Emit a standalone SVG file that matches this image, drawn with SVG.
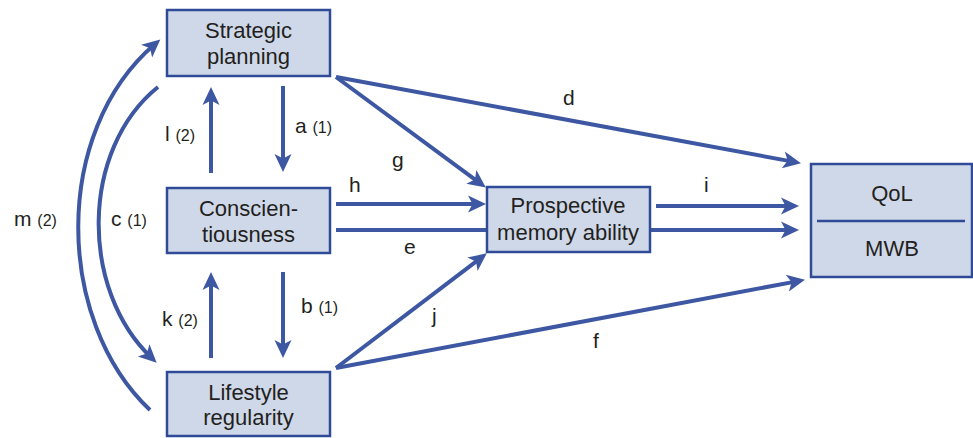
<svg xmlns="http://www.w3.org/2000/svg" width="973" height="438" viewBox="0 0 973 438">
<style>
.box{fill:#cfd8e8;stroke:#2f4b98;stroke-width:2.5}
.t{font-family:"Liberation Sans",Arial,sans-serif;font-size:22px;fill:#231f20;text-anchor:middle}
.lb{font-family:"Liberation Sans",Arial,sans-serif;font-size:21px;fill:#231f20}
.sm{font-size:16px}
.c{fill:none;stroke:#3d57a2;stroke-width:4}
</style>
<defs>
<marker id="ah" markerUnits="userSpaceOnUse" markerWidth="22" markerHeight="20" refX="11" refY="8.5" orient="auto" viewBox="0 0 22 17">
<path d="M0,0 L18,8.5 L0,17 L4.5,8.5 Z" fill="#3d57a2"/>
</marker>
</defs>
<g id="connectors">
<path class="c" d="M336,230 H792" marker-end="url(#ah)"/>
<path class="c" d="M283,86 V165" marker-end="url(#ah)"/>
<path class="c" d="M211,173 V94" marker-end="url(#ah)"/>
<path class="c" d="M283,272 V351" marker-end="url(#ah)"/>
<path class="c" d="M211,358 V279" marker-end="url(#ah)"/>
<path class="c" d="M336,204 H479" marker-end="url(#ah)"/>
<path class="c" d="M656,206 H792" marker-end="url(#ah)"/>
<path class="c" d="M336,77 L480.2,183.4" marker-end="url(#ah)"/>
<path class="c" d="M336,77 L794.1,161.9" marker-end="url(#ah)"/>
<path class="c" d="M336,368 L481.2,257.6" marker-end="url(#ah)"/>
<path class="c" d="M336,368 L798.1,281.1" marker-end="url(#ah)"/>
<path class="c" d="M150,410 C55,320 52,132 155,44" marker-end="url(#ah)"/>
<path class="c" d="M158,87 C80,150 80,290 151.6,357.9" marker-end="url(#ah)"/>
<text class="lb" x="295" y="133">a <tspan class="sm">(1)</tspan></text>
<text class="lb" x="165" y="141">l <tspan class="sm">(2)</tspan></text>
<text class="lb" x="392" y="167">g</text>
<text class="lb" x="349" y="192">h</text>
<text class="lb" x="563" y="105">d</text>
<text class="lb" x="704" y="192">i</text>
<text class="lb" x="404" y="254">e</text>
<text class="lb" x="301" y="313">b <tspan class="sm">(1)</tspan></text>
<text class="lb" x="162" y="326">k <tspan class="sm">(2)</tspan></text>
<text class="lb" x="432" y="323">j</text>
<text class="lb" x="593" y="348">f</text>
<text class="lb" x="14" y="226">m <tspan class="sm">(2)</tspan></text>
<text class="lb" x="111" y="226">c <tspan class="sm">(1)</tspan></text>
</g>
<g id="strategic">
<rect class="box" x="167" y="10" width="163" height="66"/>
<text class="t" x="248.5" y="38">Strategic</text>
<text class="t" x="248.5" y="64">planning</text>
</g>
<g id="conscientiousness">
<rect class="box" x="167" y="188" width="163" height="65"/>
<text class="t" x="248.5" y="216">Conscien-</text>
<text class="t" x="248.5" y="242">tiousness</text>
</g>
<g id="lifestyle">
<rect class="box" x="167" y="372" width="163" height="64"/>
<text class="t" x="248.5" y="400">Lifestyle</text>
<text class="t" x="248.5" y="425">regularity</text>
</g>
<g id="prospective">
<rect class="box" x="487" y="187" width="163" height="65"/>
<text class="t" x="568" y="213">Prospective</text>
<text class="t" x="568" y="240">memory ability</text>
</g>
<g id="qol">
<rect class="box" x="811" y="164" width="161" height="113"/>
<line x1="817" y1="221" x2="965" y2="221" stroke="#2f4b98" stroke-width="2.5"/>
<text class="t" x="892" y="201">QoL</text>
<text class="t" x="892" y="256">MWB</text>
</g>
</svg>
